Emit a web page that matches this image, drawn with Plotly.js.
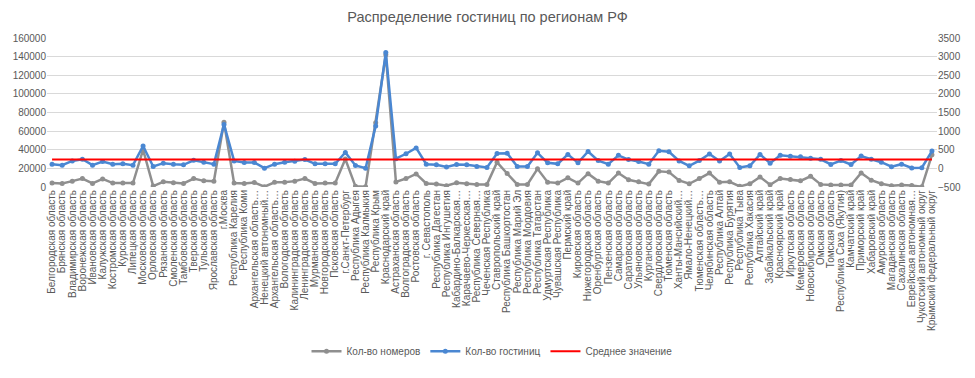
<!DOCTYPE html>
<html>
<head>
<meta charset="utf-8">
<script src="https://cdn.plot.ly/plotly-3.0.1.min.js"></script>
<style>html,body{margin:0;padding:0;background:#fff;}#chart{width:975px;height:378px;}</style>
</head>
<body>
<div id="chart"></div>
<script>
const regions = [
"Белгородская область","Брянская область","Владимирская область","Воронежская область","Ивановская область",
"Калужская область","Костромская область","Курская область","Липецкая область","Московская область",
"Орловская область","Рязанская область","Смоленская область","Тамбовская область","Тверская область",
"Тульская область","Ярославская область","г.Москва","Республика Карелия","Республика Коми",
"Архангельская область…","Ненецкий автономный…","Архангельская область…","Вологодская область","Калининградская область",
"Ленинградская область","Мурманская область","Новгородская область","Псковская область","г.Санкт-Петербург",
"Республика Адыгея","Республика Калмыкия","Республика Крым","Краснодарский край","Астраханская область",
"Волгоградская область","Ростовская область","г. Севастополь","Республика Дагестан","Республика Ингушетия",
"Кабардино-Балкарская…","Карачаево-Черкесская…","Республика Северная…","Чеченская Республика","Ставропольский край",
"Республика Башкортостан","Республика Марий Эл","Республика Мордовия","Республика Татарстан","Удмуртская Республика",
"Чувашская Республика","Пермский край","Кировская область","Нижегородская область","Оренбургская область",
"Пензенская область","Самарская область","Саратовская область","Ульяновская область","Курганская область",
"Свердловская область","Тюменская область","Ханты-Мансийский…","Ямало-Ненецкий…","Тюменская область…",
"Челябинская область","Республика Алтай","Республика Бурятия","Республика Тыва","Республика Хакасия",
"Алтайский край","Забайкальский край","Красноярский край","Иркутская область","Кемеровская область",
"Новосибирская область","Омская область","Томская область","Республика Саха (Якутия)","Камчатский край",
"Приморский край","Хабаровский край","Амурская область","Магаданская область","Сахалинская область",
"Еврейская автономная…","Чукотский автономный округ","Крымский федеральный округ"
];

const rooms = [
4200,3800,6300,9100,3800,8700,4200,4200,4200,40000,
1000,5600,4500,3800,9100,6600,6300,69500,4200,3800,
4900,300,5000,5200,6300,9100,3800,4200,4200,30000,
700,200,69000,142000,5500,9100,14000,3800,3100,1400,
4500,3500,2800,2800,26500,14500,2800,2800,19500,5200,
4200,9800,4200,14300,6300,4200,15000,7700,5600,3100,
16800,16000,7000,3500,9100,15000,5200,5600,700,3500,
10800,2400,9100,8000,6600,11500,2800,2100,2100,2100,
15000,7300,3500,1400,2100,1700,200,34500
];

const hotels = [
113,87,200,244,87,183,113,122,87,600,
52,140,113,96,218,166,113,1180,200,157,
157,5,113,166,192,235,122,122,122,427,
78,5,1140,3110,260,392,549,113,96,35,
105,96,52,26,401,405,52,52,418,148,
122,375,148,453,209,113,349,235,183,113,
471,445,200,70,209,384,200,384,26,70,
375,140,349,323,314,270,244,105,209,105,
331,244,166,44,113,9,17,465
];

const averageValue = 240;
const averageLine = regions.map(() => averageValue);

const seriesNames = ["Кол-во номеров","Кол-во гостиниц","Среднее значение"];

// category positions (index of each region on the category axis)
const pos = regions.map((_, i) => i);

const font = "Liberation Sans, Arial, sans-serif";
const txt = "#595959";

const traces = [
  {
    x: pos, y: rooms, name: seriesNames[0], type: "scatter", mode: "lines+markers",
    line: {color: "#8f8f8f", width: 2.5}, marker: {color: "#8f8f8f", size: 5}, yaxis: "y"
  },
  {
    x: pos, y: hotels, name: seriesNames[1], type: "scatter", mode: "lines+markers",
    line: {color: "#4a87d2", width: 2.5}, marker: {color: "#4a87d2", size: 5}, yaxis: "y2"
  },
  {
    x: pos, y: averageLine, name: seriesNames[2], type: "scatter", mode: "lines",
    line: {color: "#ff0000", width: 2}, yaxis: "y2"
  }
];

const layout = {
  width: 975, height: 378,
  margin: {l: 47, r: 38, t: 38, b: 187},
  paper_bgcolor: "#fff", plot_bgcolor: "#fff",
  font: {family: font, size: 10, color: txt},
  title: {text: "Распределение гостиниц по регионам РФ", x: 0.5, xanchor: "center", y: 0.955, yanchor: "middle",
          font: {family: font, size: 14.5, color: txt}},
  showlegend: true,
  legend: {orientation: "h", x: 0.5, xanchor: "center", y: -1.2, yanchor: "bottom",
           font: {family: font, size: 10, color: txt}, traceorder: "normal"},
  xaxis: {
    type: "linear", tickmode: "array", tickvals: pos, ticktext: regions,
    tickangle: -90, automargin: false, showgrid: false, zeroline: false,
    showline: false, ticks: "", tickfont: {family: font, size: 10, color: txt},
    range: [-0.5, regions.length - 0.5]
  },
  yaxis: {
    range: [0, 160000], dtick: 20000, tickformat: "d", showgrid: true, gridcolor: "#d9d9d9", gridwidth: 1,
    zeroline: false, showline: false, ticks: "", automargin: false,
    tickfont: {family: font, size: 10, color: txt}
  },
  yaxis2: {
    overlaying: "y", side: "right", range: [-500, 3500], dtick: 500, showgrid: false, zeroline: false,
    showline: false, ticks: "", automargin: false, tickformat: "d",
    tickfont: {family: font, size: 10, color: txt}
  },
  hovermode: false
};

Plotly.newPlot("chart", traces, layout, {displayModeBar: false, staticPlot: true});
</script>
</body>
</html>
